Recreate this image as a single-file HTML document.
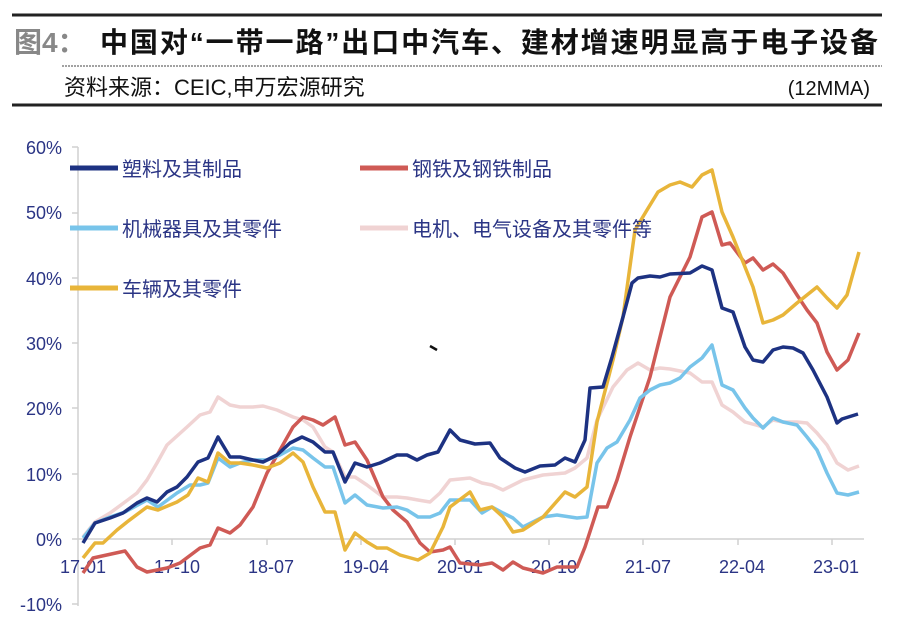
<!DOCTYPE html>
<html><head><meta charset="utf-8"><style>
body{margin:0;background:#fff;width:900px;height:631px;overflow:hidden;font-family:"Liberation Sans","Noto Sans CJK SC",sans-serif;}
</style></head><body>
<svg width="900" height="631" viewBox="0 0 900 631" xmlns="http://www.w3.org/2000/svg" style="position:absolute;left:0;top:0">
<line x1="12" y1="15" x2="882" y2="15" stroke="#222" stroke-width="3"/>
<text x="14" y="52" font-size="28" font-weight="bold" fill="#888" font-family="Liberation Sans,Noto Sans CJK SC,sans-serif">图4：</text>
<text x="100" y="52" font-size="28" font-weight="bold" fill="#111" font-family="Liberation Sans,Noto Sans CJK SC,sans-serif" textLength="778">中国对“一带一路”出口中汽车、建材增速明显高于电子设备</text>
<line x1="62" y1="66" x2="882" y2="66" stroke="#444" stroke-width="1" stroke-dasharray="2,1"/>
<text x="64" y="95" font-size="22" fill="#111" font-family="Liberation Sans,Noto Sans CJK SC,sans-serif">资料来源：CEIC,申万宏源研究</text>
<text x="870" y="95" font-size="20" fill="#111" text-anchor="end" font-family="Liberation Sans,Noto Sans CJK SC,sans-serif">(12MMA)</text>
<line x1="12" y1="105" x2="882" y2="105" stroke="#222" stroke-width="3"/>

<g stroke="#d0d0d0" stroke-width="1.5">
<line x1="78" y1="147" x2="78" y2="606"/>
<line x1="78" y1="539" x2="864" y2="539"/>
<line x1="72" y1="147" x2="78" y2="147"/><line x1="72" y1="213" x2="78" y2="213"/><line x1="72" y1="278" x2="78" y2="278"/><line x1="72" y1="343" x2="78" y2="343"/><line x1="72" y1="408" x2="78" y2="408"/><line x1="72" y1="474" x2="78" y2="474"/><line x1="72" y1="539" x2="78" y2="539"/><line x1="72" y1="604" x2="78" y2="604"/>
<line x1="172" y1="539" x2="172" y2="545"/><line x1="267" y1="539" x2="267" y2="545"/><line x1="361" y1="539" x2="361" y2="545"/><line x1="455" y1="539" x2="455" y2="545"/><line x1="549" y1="539" x2="549" y2="545"/><line x1="643" y1="539" x2="643" y2="545"/><line x1="738" y1="539" x2="738" y2="545"/><line x1="832" y1="539" x2="832" y2="545"/>
</g>
<g font-size="18" fill="#2b3585" text-anchor="end" font-family="Liberation Sans,sans-serif">
<text x="62" y="154">60%</text><text x="62" y="219">50%</text><text x="62" y="285">40%</text><text x="62" y="350">30%</text><text x="62" y="415">20%</text><text x="62" y="481">10%</text><text x="62" y="546">0%</text><text x="62" y="611">-10%</text>
</g>
<g font-size="18" fill="#2b3585" text-anchor="middle" font-family="Liberation Sans,sans-serif">
<text x="83" y="573">17-01</text><text x="177" y="573">17-10</text><text x="271" y="573">18-07</text><text x="366" y="573">19-04</text><text x="460" y="573">20-01</text><text x="554" y="573">20-10</text><text x="648" y="573">21-07</text><text x="742" y="573">22-04</text><text x="836" y="573">23-01</text>
</g>

<g fill="none" stroke-width="3.5" stroke-linejoin="round">
<polyline stroke="#f0d3d3" points="83,537 95,522 110,513 125,502 137,493 147,480 157,463 167,445 187,427 200,415 210,412 218,397 230,405 240,407 253,407 263,406 277,410 293,417 303,420 313,427 325,447 333,452 345,477 355,477 367,485 383,497 397,497 407,498 418,500 430,502 440,493 450,480 470,478 482,483 492,485 503,490 523,480 543,475 565,473 575,468 587,458 597,420 613,387 627,370 638,363 650,370 660,368 670,369 690,373 702,382 712,382 722,405 733,412 745,422 763,427 773,420 783,422 797,422 807,423 817,433 827,445 837,463 848,470 859,466"/>
<polyline stroke="#cf5a55" points="83,573 93,558 125,551 137,567 147,572 167,568 180,563 200,548 210,545 218,528 230,533 240,525 253,507 267,473 280,450 293,427 303,417 313,420 323,425 335,417 345,445 355,442 367,460 383,497 393,510 407,522 420,543 430,552 443,550 450,547 460,563 480,565 492,563 503,570 513,562 523,568 543,573 557,567 577,567 585,547 598,507 607,507 617,480 630,437 650,377 670,297 690,257 702,217 712,212 722,245 730,243 745,263 753,258 763,270 773,264 783,273 797,295 807,310 817,323 827,352 837,370 848,360 859,333"/>
<polyline stroke="#78c4ea" points="83,538 95,523 110,517 125,512 147,500 158,507 177,493 190,485 200,485 208,483 218,458 230,467 240,463 253,460 267,460 280,455 293,448 303,450 313,458 325,467 333,467 345,503 355,495 367,505 383,508 397,507 407,510 418,517 430,517 440,513 450,500 470,500 482,513 492,507 503,513 513,518 523,527 543,517 557,515 577,518 587,517 597,463 607,448 617,442 630,420 640,398 650,390 660,385 670,383 680,378 690,367 702,358 712,345 722,385 733,390 745,408 753,418 763,428 773,418 783,422 797,425 807,437 817,450 827,473 837,493 848,495 859,492"/>
<polyline stroke="#e8b53a" points="83,558 95,543 103,543 117,530 127,522 147,507 158,510 177,502 188,495 198,478 208,482 218,453 230,463 240,463 253,465 267,468 280,463 293,453 303,462 313,487 325,512 335,512 345,550 355,533 367,542 377,548 387,548 400,555 418,560 430,553 443,527 450,507 470,492 480,510 492,507 503,517 513,532 523,530 543,517 565,492 575,497 587,487 597,422 613,360 623,317 635,230 647,210 658,192 670,185 680,182 692,187 702,175 712,170 722,212 733,237 745,267 753,287 763,323 773,320 783,315 797,303 807,295 817,287 827,298 837,308 847,295 859,252"/>
<polyline stroke="#1d3282" points="83,543 95,523 110,518 123,513 137,503 147,498 157,502 167,492 177,487 187,477 198,462 208,458 218,437 230,457 240,457 253,460 263,462 277,455 290,443 302,437 313,442 325,452 333,452 345,482 355,463 367,467 380,463 397,455 407,455 417,460 427,455 438,452 450,430 460,440 475,444 490,443 500,458 515,468 525,472 540,466 555,465 565,458 575,462 585,440 590,388 603,387 612,357 623,317 632,283 638,278 650,276 660,277 670,274 690,273 702,266 712,270 722,308 733,312 745,347 753,360 763,362 773,350 783,347 793,348 803,353 813,370 827,397 837,423 842,419 858,414"/>
</g>
<path d="M430,346 L437,350" stroke="#111" stroke-width="2.5"/>

<g stroke-width="5">
<line x1="70" y1="168" x2="118" y2="168" stroke="#1d3282"/>
<line x1="70" y1="228" x2="118" y2="228" stroke="#78c4ea"/>
<line x1="70" y1="288" x2="118" y2="288" stroke="#e8b53a"/>
<line x1="360" y1="168" x2="408" y2="168" stroke="#cf5a55"/>
<line x1="360" y1="228" x2="408" y2="228" stroke="#f0d3d3"/>
</g>
<g font-size="20" fill="#2b3585" font-family="Liberation Sans,Noto Sans CJK SC,sans-serif">
<text x="122" y="176">塑料及其制品</text>
<text x="122" y="236">机械器具及其零件</text>
<text x="122" y="296">车辆及其零件</text>
<text x="412" y="176">钢铁及钢铁制品</text>
<text x="412" y="236">电机、电气设备及其零件等</text>
</g>
</svg>
</body></html>
